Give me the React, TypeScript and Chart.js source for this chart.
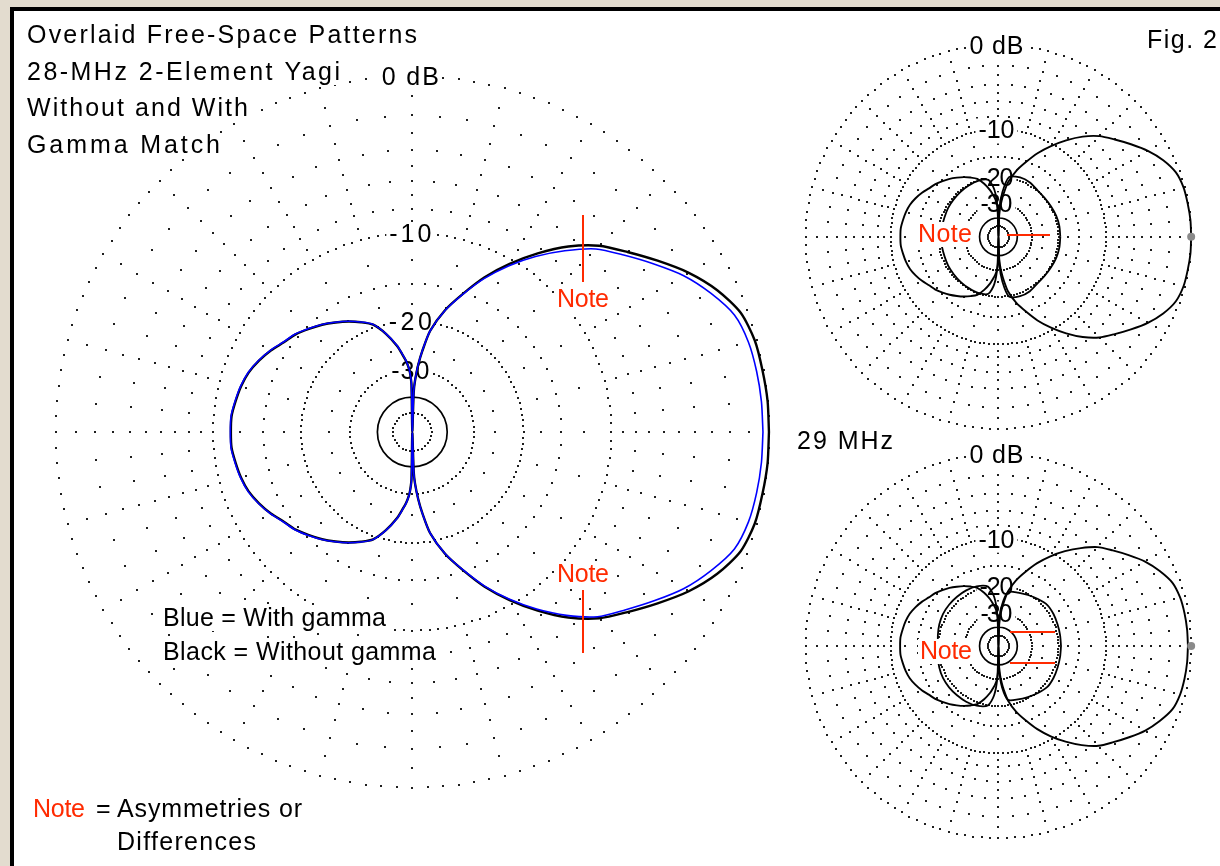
import { useEffect, useRef } from "react";
import { Chart, registerables } from "chart.js";

Chart.register(...registerables);

// ================= DATA =================
// Azimuth angles in degrees, counter-clockwise from the forward (right) direction.
const PATTERN_ANGLES = [
  0, 5, 10, 15, 20, 25, 30, 35, 40, 45, 50, 55, 60, 65, 70, 75, 80, 83, 85, 87, 88, 90,
  91, 92, 93, 95, 97, 100, 105, 110, 115, 120, 125, 130, 135, 140, 145, 150, 155, 160, 165, 170, 175, 180,
  185, 190, 195, 200, 205, 210, 215, 220, 225, 230, 235, 240, 245, 250, 255, 260, 263, 265, 267, 268, 269, 270,
  272, 273, 275, 277, 280, 285, 290, 295, 300, 305, 310, 315, 320, 325, 330, 335, 340, 345, 350, 355, 360,
];

// Relative gain (dB) without the gamma match (black trace)
const GAIN_WITHOUT_GAMMA = [
  0.0, 0.0, -0.05, -0.1, -0.35, -1.0, -1.9, -3.0, -4.1, -5.15, -6.6, -8.4, -10.4, -12.6, -15.2, -17.8, -21.3, -25.3, -28.6, -33.2, -37.7, -100,
  -34.6, -31.3, -29.6, -27.6, -26.2, -24.1, -21.5, -19.5, -18.5, -17.6, -16.8, -16.0, -15.3, -14.6, -14.1, -13.4, -12.8, -12.3, -12.0, -11.8, -11.6, -11.6,
  -11.6, -11.8, -12.0, -12.3, -12.8, -13.4, -14.1, -14.6, -15.3, -16.0, -16.8, -17.6, -18.5, -19.5, -21.5, -24.1, -26.2, -27.6, -29.6, -31.3, -34.6, -100,
  -37.7, -33.2, -28.6, -25.3, -21.3, -17.8, -15.2, -12.6, -10.4, -8.4, -6.6, -5.15, -4.1, -3.0, -1.9, -1.0, -0.35, -0.1, -0.05, 0.0, 0.0,
];

// Relative gain (dB) with the gamma match (blue trace)
const GAIN_WITH_GAMMA = [
  -0.29, -0.3, -0.34, -0.42, -0.68, -1.37, -2.22, -3.31, -4.4, -5.45, -7.0, -8.7, -10.6, -12.75, -15.25, -17.85, -21.3, -25.2, -28.5, -33.0, -37.5, -100,
  -34.4, -31.2, -29.5, -27.5, -26.1, -24.0, -21.45, -19.45, -18.45, -17.55, -16.75, -15.95, -15.25, -14.55, -14.05, -13.35, -12.75, -12.25, -11.95, -11.75, -11.55, -11.55,
  -11.55, -11.75, -11.95, -12.25, -12.75, -13.35, -14.05, -14.55, -15.25, -15.95, -16.75, -17.55, -18.45, -19.45, -21.45, -24.0, -26.1, -27.5, -29.5, -31.2, -34.4, -100,
  -37.5, -33.0, -28.5, -25.2, -21.3, -17.85, -15.25, -12.7, -10.5, -8.55, -6.8, -5.3, -4.3, -3.25, -2.2, -1.37, -0.68, -0.42, -0.34, -0.3, -0.29,
];

// Small inner (low-level) traces of the two inset plots
const INNER_ANGLES = [
  0, 10, 20, 30, 40, 50, 60, 70, 80, 85, 88, 90, 92, 95, 100, 110, 120, 130, 140, 150, 160, 170, 180,
  190, 200, 210, 220, 230, 240, 250, 260, 265, 268, 270, 272, 275, 280, 290, 300, 310, 320, 330, 340, 350, 360,
];
const INNER_GAIN_UPPER = [
  -19.5, -19.5, -19.6, -19.8, -19.9, -19.8, -19.2, -19.1, -19.8, -25.0, -33.0, -100, -32.0, -24.0, -20.6, -20.1, -20.2, -20.35, -20.5, -20.6, -20.8, -20.8, -20.6,
  -20.8, -20.8, -20.6, -20.5, -20.35, -20.2, -20.1, -20.6, -24.0, -32.0, -100, -33.0, -25.0, -19.8, -19.1, -19.2, -19.8, -19.9, -19.8, -19.6, -19.5, -19.5,
];
const INNER_GAIN_LOWER = [
  -19.3, -19.3, -19.2, -19.0, -18.95, -19.6, -20.3, -20.9, -21.6, -26.3, -34.5, -100, -31.0, -23.3, -19.9, -19.0, -18.8, -18.8, -18.8, -18.9, -19.2, -19.6, -19.9,
  -19.6, -19.2, -18.9, -18.8, -18.8, -18.8, -19.0, -19.9, -23.3, -31.0, -100, -34.5, -26.3, -21.6, -20.9, -20.3, -19.6, -18.95, -19.0, -19.2, -19.3, -19.3,
];

const PEAK_ANGLE = [0];
const PEAK_GAIN = [0];

const RING_LEVELS = [0, -10, -20, -30];
const RING_LABELS = ["0 dB", "-10", "-20", "-30"];

const TITLE_LINES = ["Overlaid Free-Space Patterns", "28-MHz 2-Element Yagi", "Without and With", "Gamma Match"];
const LEGEND_LINES = ["Blue = With gamma", "Black = Without gamma"];
const NOTE_WORD = "Note";
const NOTE_LEGEND = ["=", "Asymmetries or", "Differences"];
const FREQ_LABEL = "29 MHz";
const FIG_LABEL = "Fig. 2";

// ================= LAYOUT / STYLE =================
const W = 1220;
const H = 866;
const BIG = { cx: 411, cy: 432, R: 359 };
const TOP = { cx: 1001, cy: 235, R: 194 };
const BOT = { cx: 1001, cy: 648, R: 194 };
const FONT = '"Liberation Sans", Arial, Helvetica, sans-serif';
const RED = "#ff2a00";
const TEXT_SIZE = 25;

function arrlRadius(R: number, db: number) {
  return R * Math.pow(0.89, -db / 2);
}

function polarPoint(plot: any, angle: number, db: number) {
  const r = arrlRadius(plot.R, db);
  const t = (angle * Math.PI) / 180;
  return { x: plot.cx + r * Math.cos(t), y: plot.cy - r * Math.sin(t) };
}

function polarPoints(plot: any, angles: number[], gains: number[]) {
  return angles.map((a, i) => polarPoint(plot, a, gains[i]));
}

function drawText(ctx: any, str: string, x: number, y: number, o: any = {}) {
  const size = o.size || TEXT_SIZE;
  ctx.save();
  ctx.font = `${size}px ${FONT}`;
  ctx.textBaseline = "alphabetic";
  ctx.textAlign = "left";
  const hasLS = "letterSpacing" in ctx;
  if (hasLS) ctx.letterSpacing = "0px";
  const w0 = ctx.measureText(str).width;
  let w = w0;
  if (o.width && str.length > 1 && hasLS) {
    const ls = (o.width - w0) / (str.length - 1);
    ctx.letterSpacing = ls + "px";
    w = o.width;
  }
  const left = o.center ? x - w / 2 : x;
  if (o.bg) {
    const pad = o.pad ?? 3;
    ctx.fillStyle = "#ffffff";
    ctx.fillRect(left - pad, y - size * 0.8, w + 2 * pad, size * 1.0);
  }
  ctx.fillStyle = o.color || "#000";
  ctx.fillText(str, left, y);
  ctx.restore();
}

function drawGrid(ctx: any, plot: any, sx: any, sy: any) {
  ctx.save();
  ctx.fillStyle = "#1e1e1e";
  const dot = (a: number, db: number) => {
    const p = polarPoint(plot, a, db);
    ctx.fillRect(Math.round(sx(p.x)) - 1, Math.round(sy(p.y)) - 1, 2, 2);
  };
  const major = [
    { db: 0, step: 2.5 },
    { db: -10, step: 2.5 },
    { db: -20, step: 3 },
    { db: -30, step: 5 },
    { db: -50, step: 12 },
  ];
  major.forEach((m) => {
    for (let a = 0; a < 360; a += m.step) dot(a, m.db);
  });
  for (let d = 1; d <= 9; d++) {
    const step = d % 2 ? 15 : 5;
    for (let a = 0; a < 360; a += step) dot(a, -d);
  }
  [
    { db: -12.5, step: 15 },
    { db: -15, step: 5 },
    { db: -17.5, step: 15 },
    { db: -25, step: 15 },
  ].forEach((m) => {
    for (let a = 0; a < 360; a += m.step) dot(a, m.db);
  });
  // solid -40 dB ring
  ctx.strokeStyle = "#000";
  ctx.lineWidth = 1.7;
  ctx.beginPath();
  ctx.arc(sx(plot.cx), sy(plot.cy), arrlRadius(plot.R, -40), 0, Math.PI * 2);
  ctx.stroke();
  ctx.restore();
}

function drawRingLabels(ctx: any, plot: any, widths: number[], sx: any, sy: any) {
  RING_LEVELS.forEach((lvl, i) => {
    const p = polarPoint(plot, 90, lvl);
    drawText(ctx, RING_LABELS[i], sx(p.x) - 2, sy(p.y) + 9, { center: true, bg: true, width: widths[i], pad: 3 });
  });
}

const backgroundPlugin = {
  id: "arrlBackground",
  beforeDraw(chart: any) {
    const ctx = chart.ctx;
    const xs = chart.scales.x;
    const ys = chart.scales.y;
    const sx = (v: number) => xs.getPixelForValue(v);
    const sy = (v: number) => ys.getPixelForValue(v);
    ctx.save();
    // parchment surround
    ctx.fillStyle = "#e3dccf";
    ctx.fillRect(0, 0, W, H);
    // black frame + white panel
    ctx.fillStyle = "#000";
    ctx.fillRect(10, 7, W - 10, H - 7);
    ctx.fillStyle = "#fff";
    ctx.fillRect(14, 11, W - 14, H - 11);
    ctx.restore();

    drawGrid(ctx, BIG, sx, sy);
    drawGrid(ctx, TOP, sx, sy);
    drawGrid(ctx, BOT, sx, sy);

    drawRingLabels(ctx, BIG, [57, 42, 43, 38], sx, sy);
    drawRingLabels(ctx, TOP, [54, 36, 34, 32], sx, sy);
    drawRingLabels(ctx, BOT, [54, 36, 34, 32], sx, sy);

    const titleBase = [43, 80, 116, 153];
    const titleW = [390, 313, 221, 193];
    TITLE_LINES.forEach((t, i) => drawText(ctx, t, 27, titleBase[i], { bg: true, width: titleW[i], pad: 2 }));

    drawText(ctx, LEGEND_LINES[0], 163, 626, { bg: true, width: 223, pad: 2 });
    drawText(ctx, LEGEND_LINES[1], 163, 660, { bg: true, width: 273, pad: 2 });

    drawText(ctx, NOTE_WORD, 33, 817, { bg: true, width: 52, color: RED, pad: 2 });
    drawText(ctx, NOTE_LEGEND[0], 96, 817, { bg: false });
    drawText(ctx, NOTE_LEGEND[1], 117, 817, { bg: true, width: 185, pad: 2 });
    drawText(ctx, NOTE_LEGEND[2], 117, 850, { bg: true, width: 139, pad: 2 });

    drawText(ctx, FREQ_LABEL, 797, 449, { bg: true, width: 96, pad: 3 });
    drawText(ctx, FIG_LABEL, 1147, 48, { bg: true, width: 70, pad: 2 });
  },
  afterDraw(chart: any) {
    const ctx = chart.ctx;
    ctx.save();
    ctx.strokeStyle = RED;
    ctx.lineWidth = 2;
    const seg = (x1: number, y1: number, x2: number, y2: number) => {
      ctx.beginPath();
      ctx.moveTo(x1, y1);
      ctx.lineTo(x2, y2);
      ctx.stroke();
    };
    seg(583, 215, 583, 282);
    seg(583, 590, 583, 653);
    seg(1007, 235, 1050, 235);
    seg(1010, 632, 1055, 632);
    seg(1010, 663, 1055, 663);
    ctx.restore();

    drawText(ctx, NOTE_WORD, 583, 307, { center: true, bg: true, width: 52, color: RED, pad: 2 });
    drawText(ctx, NOTE_WORD, 583, 582, { center: true, bg: true, width: 52, color: RED, pad: 2 });
    drawText(ctx, NOTE_WORD, 918, 242, { bg: true, width: 54, color: RED, pad: 2 });
    drawText(ctx, NOTE_WORD, 920, 659, { bg: true, width: 52, color: RED, pad: 2 });
  },
};

export default function App() {
  const canvasRef = useRef<HTMLCanvasElement | null>(null);

  useEffect(() => {
    const canvas = canvasRef.current;
    if (!canvas) return;
    const line = { showLine: true, pointRadius: 0, fill: false, tension: 0.25, borderJoinStyle: "round" };
    const chart = new Chart(canvas, {
      type: "scatter",
      data: {
        datasets: [
          {
            label: "Peak",
            data: [
              polarPoint(TOP, PEAK_ANGLE[0], PEAK_GAIN[0]),
              polarPoint(BOT, PEAK_ANGLE[0], PEAK_GAIN[0]),
            ],
            showLine: false,
            pointRadius: 4,
            pointBackgroundColor: "#8a8a8a",
            pointBorderWidth: 0,
            order: -1,
          },
          { ...line, label: "With gamma", data: polarPoints(BIG, PATTERN_ANGLES, GAIN_WITH_GAMMA), borderColor: "#0000ff", borderWidth: 1.6, order: 0 },
          { ...line, label: "Without gamma", data: polarPoints(BIG, PATTERN_ANGLES, GAIN_WITHOUT_GAMMA), borderColor: "#000000", borderWidth: 2.4, order: 1 },
          { ...line, label: "Upper inset", data: polarPoints(TOP, PATTERN_ANGLES, GAIN_WITHOUT_GAMMA), borderColor: "#000000", borderWidth: 1.9, order: 2 },
          { ...line, label: "Upper inset inner", data: polarPoints(TOP, INNER_ANGLES, INNER_GAIN_UPPER), borderColor: "#000000", borderWidth: 1.8, order: 3 },
          { ...line, label: "Lower inset", data: polarPoints(BOT, PATTERN_ANGLES, GAIN_WITH_GAMMA), borderColor: "#000000", borderWidth: 1.9, order: 4 },
          { ...line, label: "Lower inset inner", data: polarPoints(BOT, INNER_ANGLES, INNER_GAIN_LOWER), borderColor: "#000000", borderWidth: 1.8, order: 5 },
        ] as any,
      },
      options: {
        animation: false,
        responsive: false,
        devicePixelRatio: 1,
        events: [],
        layout: { padding: 0 },
        scales: {
          x: { type: "linear", min: 0, max: W, bounds: "data", display: false },
          y: { type: "linear", min: 0, max: H, bounds: "data", reverse: true, display: false },
        },
        plugins: { legend: { display: false }, tooltip: { enabled: false } },
      } as any,
      plugins: [backgroundPlugin],
    });
    return () => chart.destroy();
  }, []);

  return (
    <div style={{ position: "absolute", left: 0, top: 0, width: W, height: H, overflow: "hidden" }}>
      <canvas ref={canvasRef} width={W} height={H} style={{ display: "block", width: W, height: H }} />
    </div>
  );
}
